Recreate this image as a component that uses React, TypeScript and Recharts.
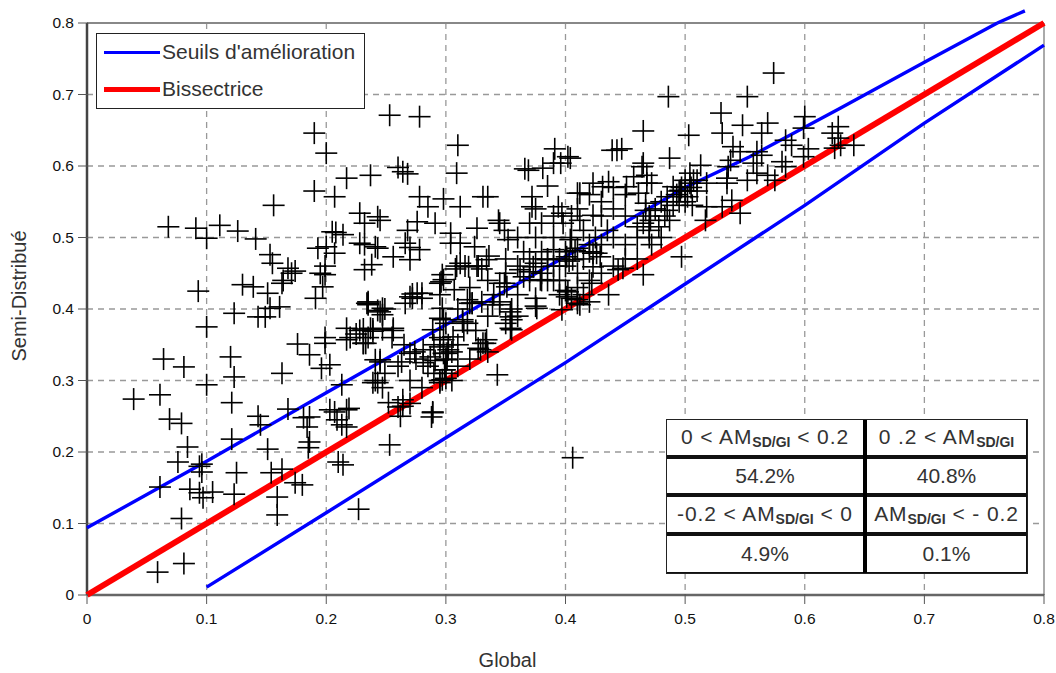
import React from 'react';
import { ScatterChart, Scatter, XAxis, YAxis, CartesianGrid, ReferenceLine } from 'recharts';

const axisTicks = [0, 0.1, 0.2, 0.3, 0.4, 0.5, 0.6, 0.7, 0.8];

const lowerLeftPoints = [
  [.059,.032],[.081,.044],[.079,.107],[.061,.151],[.086,.148],[.096,.183],[.094,.18],[.076,.186],[.084,.207],[.096,.172],[.105,.144],[.097,.136],[.094,.143],
  [.069,.246],[.079,.24],[.039,.274],[.061,.28],[.1,.294],[.064,.33],[.081,.319],[.12,.333],[.123,.305],[.121,.269],[.143,.25],[.145,.238],[.121,.218],[.125,.171],[.123,.141],
  [.151,.204],[.154,.171],[.163,.176],[.159,.137],[.159,.112],[.174,.157],[.18,.154],[.227,.12],[.21,.186],[.214,.182],[.168,.26],[.181,.248],[.186,.249],[.184,.235],[.186,.214],[.185,.206],
  [.203,.259],[.207,.256],[.217,.259],[.217,.235],[.213,.238],[.209,.245],[.213,.294],[.163,.31],[.176,.351],[.186,.336],[.199,.352],[.196,.317],[.203,.322],[.217,.357],[.231,.352],[.241,.3],[.241,.329],[.235,.36],
  [.253,.21],[.264,.273],[.26,.263],[.252,.269],[.27,.268],[.289,.255],[.288,.249],
];
const upperLeftPoints = [
  [.19,.646],[.2,.618],[.217,.583],[.237,.587],[.19,.565],[.207,.557],[.156,.545],[.228,.534],[.232,.52],[.243,.529],[.068,.515],[.091,.513],[.1,.499],[.111,.517],[.126,.509],[.141,.498],
  [.153,.476],[.155,.464],[.205,.508],[.208,.507],[.214,.504],[.228,.492],[.232,.49],[.241,.487],[.193,.485],[.2,.487],[.207,.478],[.238,.462],[.232,.455],[.168,.457],[.174,.453],[.171,.45],[.164,.44],
  [.195,.45],[.199,.448],[.199,.46],[.197,.431],[.13,.434],[.139,.431],[.151,.422],[.163,.436],[.191,.415],[.093,.425],[.161,.403],[.153,.401],[.123,.394],[.143,.389],[.149,.389],[.1,.375],
  [.235,.408],[.243,.398],[.217,.373],[.199,.36],[.231,.372],[.239,.372],[.225,.365],[.228,.37],
];
const upperMiddlePoints = [
  [.253,.671],[.278,.669],[.31,.629],[.309,.59],[.26,.598],[.264,.592],[.268,.589],[.465,.649],[.443,.622],[.439,.622],[.447,.624],[.391,.624],[.404,.611],[.402,.613],[.396,.604],[.39,.604],[.381,.597],[.366,.596],[.369,.594],
  [.385,.572],[.372,.557],[.372,.543],[.375,.54],[.394,.543],[.397,.534],[.398,.52],[.412,.562],[.41,.562],[.423,.576],[.436,.578],[.431,.571],[.451,.571],[.457,.585],[.465,.604],[.468,.587],[.461,.562],[.467,.548],[.471,.524],[.423,.531],[.412,.524],
  [.278,.557],[.285,.543],[.298,.554],[.312,.543],[.331,.557],[.335,.557],[.344,.524],[.345,.52],[.349,.51],[.352,.497],[.326,.513],[.324,.487],[.304,.506],[.304,.492],[.312,.492],[.268,.51],[.276,.522],[.291,.52],[.245,.524],[.243,.485],
  [.266,.492],[.27,.486],[.278,.483],[.27,.469],[.256,.473],[.298,.441],[.312,.464],[.308,.456],[.316,.46],[.326,.46],[.33,.456],[.334,.469],[.336,.474],[.296,.438],[.28,.422],[.27,.417],[.276,.422],[.247,.401],[.234,.408],[.297,.401],[.318,.413],[.322,.408],
];
const upperRightPoints = [
  [.574,.73],[.486,.697],[.552,.697],[.53,.674],[.548,.657],[.569,.66],[.531,.646],[.503,.643],[.564,.646],[.6,.669],[.599,.653],[.628,.655],[.623,.646],[.641,.629],[.628,.639],[.625,.625],[.63,.629],
  [.584,.636],[.589,.629],[.603,.624],[.599,.613],[.54,.627],[.546,.62],[.56,.62],[.564,.615],[.538,.608],[.536,.599],[.581,.606],[.584,.599],[.487,.611],[.557,.604],[.56,.59],[.569,.587],[.575,.58],[.552,.58],[.535,.583],[.535,.576],
  [.513,.601],[.504,.59],[.504,.576],[.518,.576],[.496,.566],[.49,.571],[.502,.557],[.506,.545],[.518,.543],[.531,.543],[.539,.552],[.546,.534],[.517,.524],[.485,.557],[.485,.538],[.483,.53],[.468,.576],[.472,.576],[.464,.599],[.467,.538],[.487,.524],[.497,.473],
  [.493,.56],[.5,.565],[.505,.57],[.51,.565],[.495,.55],[.49,.545],[.48,.55],[.475,.54],[.47,.51],[.48,.5],[.478,.515],[.46,.515],
  [.5,.58],[.497,.57],[.507,.58],[.5,.55],[.495,.565],[.51,.58],[.47,.53],[.465,.52],[.47,.5],[.472,.49],[.46,.47],
];
const centerPoints = [
  [.406,.192],[.343,.308],[.436,.42],[.397,.399],[.41,.408],[.402,.424],[.395,.42],[.4,.426],[.412,.406],[.465,.448],[.448,.457],[.444,.455],[.422,.436],[.423,.459],[.376,.401],[.355,.385],[.355,.371],[.354,.396],[.339,.406],[.345,.406],[.32,.408],[.314,.382],[.318,.38],[.295,.387],[.297,.448],[.272,.415],[.28,.415],[.266,.408],[.245,.396],[.235,.406],[.237,.373],[.247,.371],[.256,.373],[.231,.352],
  [.331,.352],[.327,.345],[.334,.357],[.329,.343],[.298,.357],[.302,.343],[.301,.329],[.299,.315],[.297,.301],[.295,.297],[.3,.303],[.281,.343],[.287,.333],[.27,.338],[.263,.326],[.291,.328],[.281,.325],[.245,.329],[.249,.31],[.243,.297],
  [.373,.459],[.379,.441],[.37,.452],[.36,.46],[.406,.469],[.41,.485],[.403,.467],[.423,.478],[.415,.47],[.429,.473],[.401,.473],[.395,.44],[.385,.44],[.351,.431],[.365,.445],[.345,.436],[.36,.42],[.375,.415],[.345,.41],
  [.3,.33],[.305,.34],[.295,.36],[.31,.35],[.315,.37],[.3,.38],[.29,.35],[.285,.32],[.275,.33],[.265,.35],[.255,.36],[.26,.32],[.27,.3],[.28,.29],[.29,.31],[.3,.31],[.305,.3],[.31,.32],[.32,.33],[.335,.34],[.325,.37],[.335,.39],[.35,.38],[.36,.39],[.355,.4],[.34,.42],[.33,.41],[.31,.4],[.295,.42],[.32,.43],[.335,.44],[.35,.45],
  [.37,.47],[.38,.45],[.39,.44],[.385,.47],[.375,.5],[.39,.5],[.4,.48],[.41,.45],[.42,.48],[.43,.49],[.44,.5],[.45,.49],[.46,.5],[.405,.5],[.415,.51],[.42,.49],[.425,.5],[.435,.51],[.4,.46],[.395,.47],[.41,.43],[.405,.415],[.415,.42],[.42,.41],[.43,.45],[.44,.46],[.45,.47],[.38,.48],[.37,.44],[.365,.48],[.35,.47],[.39,.46],
  [.43,.53],[.44,.54],[.45,.53],[.45,.56],[.44,.57],[.43,.55],[.42,.56],[.41,.54],[.405,.53],[.39,.53],[.38,.52],[.37,.52],[.36,.5],
];
const denseClusterPoints = [
  [.298,.338],[.302,.35],[.289,.371],[.306,.361],[.298,.385],[.314,.385],[.322,.408],[.354,.389],[.354,.373],[.375,.404],[.401,.417],[.41,.413],[.38,.44],[.362,.455],[.349,.436],[.327,.46],[.309,.46],[.319,.459],[.42,.44],[.408,.482],[.426,.478],[.404,.497],[.385,.469],[.375,.464],[.39,.483],[.333,.352],[.299,.315],
  [.235,.41],[.249,.4],[.247,.392],[.272,.421],[.239,.369],[.22,.36],[.233,.352],[.256,.37],[.245,.326],[.247,.29],[.239,.297],[.274,.34],[.295,.347],[.301,.338],[.295,.3],[.264,.264],[.262,.25],[.289,.256],[.219,.261],[.295,.436],[.307,.427],
];

const upperGlobal = [0, .1, .2, .3, .41, .5, .554, .63, .7, .761];
const upperSemi = [.094, .187, .283, .378, .483, .57, .613, .681, .745, .8];
const upperOverflow = [{ x: .761, y: .8 }, { x: .784, y: .817 }];
const lowerGlobal = [.1, .2, .3, .4, .5, .6, .7, .8];
const lowerSemi = [.011, .115, .22, .325, .435, .545, .66, .769];
const bisectorGlobal = [0, .8];
const bisectorSemi = [0, .8];

const legendNames = ["Seuils d'amélioration", 'Bissectrice'];
const legendColours = ['#0000ff', '#ff0000'];
const xTitle = 'Global';
const yTitle = 'Semi-Distribué';
const tableBounds = [['0 < AM', ' < 0.2'], ['0 .2 < AM', ''], ['-0.2 < AM', ' < 0'], ['AM', ' < - 0.2']];
const tableShares = ['54.2%', '40.8%', '4.9%', '0.1%'];
const subscript = 'SD/GI';

const FONT = '"Liberation Sans", Arial, sans-serif';
const toXY = (g: number[], s: number[]) => g.map((x, i) => ({ x, y: s[i] }));
const cloud = [...lowerLeftPoints, ...upperLeftPoints, ...upperMiddlePoints, ...upperRightPoints, ...centerPoints, ...denseClusterPoints].map(([x, y]) => ({ x, y }));

const Plus = (p: any) => (
  <g stroke="#000" strokeWidth={1.6}>
    <line x1={p.cx - 11} x2={p.cx + 11} y1={p.cy} y2={p.cy} />
    <line x1={p.cx} x2={p.cx} y1={p.cy - 11} y2={p.cy + 11} />
  </g>
);
const NoMark = () => <g />;

const XTick = (p: any) => (
  <g>
    <line x1={p.x} x2={p.x} y1={p.y - 9} y2={p.y + 1} stroke="#555" strokeWidth={1} />
    <text x={p.x} y={p.y + 20.5} textAnchor="middle" fontSize={15.5} fontFamily={FONT} fill="#111">{String(p.payload.value)}</text>
  </g>
);
const YTick = (p: any) => (
  <g>
    <line x1={p.x - 1} x2={p.x + 9} y1={p.y} y2={p.y} stroke="#555" strokeWidth={1} />
    <text x={p.x - 5} y={p.y + 5} textAnchor="end" fontSize={15.5} fontFamily={FONT} fill="#111">{String(p.payload.value)}</text>
  </g>
);

const XTitle = (p: any) => (
  <text x={p.viewBox.x + p.viewBox.width / 2 - 58} y={667} textAnchor="middle" fontSize={20} fontFamily={FONT} fill="#333">{xTitle}</text>
);
const YTitle = () => (
  <text x={26} y={296} transform="rotate(-90 26 296)" textAnchor="middle" fontSize={20} fontFamily={FONT} fill="#333">{yTitle}</text>
);

const LegendBox = () => (
  <div style={{ position: 'absolute', left: 96, top: 33, width: 269, height: 76, border: '1.5px solid #222', background: '#fff', fontFamily: FONT, fontSize: 21, color: '#333', boxSizing: 'border-box' }}>
    {legendNames.map((name, i) => (
      <div key={name} style={{ position: 'absolute', left: 7, top: i === 0 ? 8 : 45, display: 'flex', alignItems: 'center', height: 20 }}>
        <span style={{ display: 'inline-block', width: 56, height: i === 0 ? 3 : 5, background: legendColours[i], marginRight: 2 }} />
        <span>{name}</span>
      </div>
    ))}
  </div>
);

const Cell = ({ children }: any) => (
  <div style={{ background: '#fff', display: 'flex', alignItems: 'center', justifyContent: 'center', whiteSpace: 'nowrap' }}>{children}</div>
);

const Bound = ({ pair }: { pair: string[] }) => (
  <span style={{ fontSize: 21, letterSpacing: 0.9 }}>{pair[0]}<sub style={{ fontSize: 14, fontWeight: 700, verticalAlign: -3, color: '#333', letterSpacing: 0 }}>{subscript}</sub>{pair[1]}</span>
);

export default function App() {
  return (
    <div style={{ position: 'absolute', left: 0, top: 0, width: 1056, height: 673, background: '#fff', overflow: 'hidden' }}>
      <ScatterChart width={1056} height={673} margin={{ top: 23, right: 12, bottom: 0, left: 0 }} style={{ overflow: 'visible' }}>
        <CartesianGrid stroke="#999" strokeWidth={1.3} strokeDasharray="6 5" />
        <XAxis type="number" dataKey="x" domain={[0, 0.8]} ticks={axisTicks} height={78} stroke="#666" strokeWidth={2.5} tickLine={false} tick={<XTick />} interval={0} label={<XTitle />} />
        <YAxis type="number" dataKey="y" domain={[0, 0.8]} ticks={axisTicks} width={87} stroke="#444" strokeWidth={2.5} tickLine={false} tick={<YTick />} interval={0} label={<YTitle />} />
        <ReferenceLine y={0.8} stroke="#888" strokeWidth={2} />
        <ReferenceLine x={0.8} stroke="#aaa" strokeWidth={2} />
        <Scatter name={legendNames[0]} data={toXY(upperGlobal, upperSemi)} line={{ stroke: '#0000ff', strokeWidth: 3.4 }} lineJointType="linear" shape={<NoMark />} isAnimationActive={false} />
        <ReferenceLine segment={upperOverflow} stroke="#0000ff" strokeWidth={3.4} ifOverflow="visible" />
        <Scatter name={legendNames[0]} data={toXY(lowerGlobal, lowerSemi)} line={{ stroke: '#0000ff', strokeWidth: 3.4 }} lineJointType="linear" shape={<NoMark />} isAnimationActive={false} />
        <Scatter name={legendNames[1]} data={toXY(bisectorGlobal, bisectorSemi)} line={{ stroke: '#ff0000', strokeWidth: 6 }} lineJointType="linear" shape={<NoMark />} isAnimationActive={false} />
        <Scatter name="Bassins" data={cloud} shape={<Plus />} isAnimationActive={false} />
      </ScatterChart>
      <LegendBox />
      <div style={{ position: 'absolute', left: 666, top: 419, width: 362, height: 155, boxSizing: 'border-box', background: '#111', border: '1.5px solid #222', display: 'grid', gridTemplateColumns: '200px 159px', columnGap: 0, fontFamily: FONT, fontSize: 21, color: '#333' }}>
        <div style={{ display: 'grid', rowGap: 4, gridTemplateRows: '35px 34px 35px 36px', borderRight: '4px solid #000' }}>
          <Cell><Bound pair={tableBounds[0]} /></Cell>
          <Cell>{tableShares[0]}</Cell>
          <Cell><Bound pair={tableBounds[2]} /></Cell>
          <Cell>{tableShares[2]}</Cell>
        </div>
        <div style={{ display: 'grid', rowGap: 4, gridTemplateRows: '35px 34px 35px 36px' }}>
          <Cell><Bound pair={tableBounds[1]} /></Cell>
          <Cell>{tableShares[1]}</Cell>
          <Cell><Bound pair={tableBounds[3]} /></Cell>
          <Cell>{tableShares[3]}</Cell>
        </div>
      </div>
    </div>
  );
}
